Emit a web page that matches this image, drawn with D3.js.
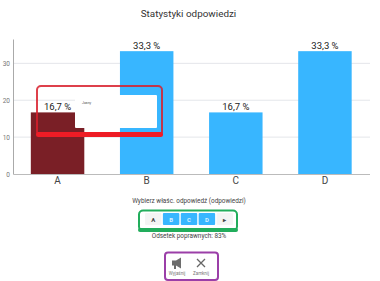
<!DOCTYPE html>
<html>
<head>
<meta charset="utf-8">
<script src="https://cdn.jsdelivr.net/npm/d3@7"></script>
<style>
  html, body { margin: 0; padding: 0; background: white; }
  svg { display: block; font-family: Roboto, sans-serif; }
</style>
</head>
<body>
<div id="chart"></div>
<script>
const categories = ["A", "B", "C", "D"];
const shares = [16.7, 33.3, 16.7, 33.3];
const shareLabels = ["16,7 %", "33,3 %", "16,7 %", "33,3 %"];
const yTicks = [0, 10, 20, 30];
const answerButtons = ["A", "B", "C", "D", "▸"];
const toolLabels = ["Wyjaśnij", "Zamknij"];

const width = 380, height = 281;

const svg = d3.select("#chart")
  .append("svg")
  .attr("width", width)
  .attr("height", height);

const x = d3.scaleBand().domain(categories).range([13, 369.5]).paddingInner(0.4).paddingOuter(0.2);
const y = d3.scaleLinear().domain([0, 36.6]).range([174, 39]);

svg.append("text")
  .attr("x", 188.5).attr("y", 17)
  .attr("text-anchor", "middle")
  .attr("font-size", 9.9)
  .attr("fill", "#333")
  .text("Statystyki odpowiedzi");

// grid lines
svg.append("g")
  .selectAll("line")
  .data(yTicks.slice(1))
  .join("line")
  .attr("x1", 13).attr("x2", 370)
  .attr("y1", d => y(d)).attr("y2", d => y(d))
  .attr("stroke", "#e4e6ea");

// axes
const yAxis = svg.append("g")
  .attr("transform", "translate(13,0)")
  .call(d3.axisLeft(y).tickValues(yTicks).tickSize(0).tickPadding(3));
yAxis.select(".domain").attr("stroke", "#aaa");
yAxis.selectAll("text").attr("font-size", 6.5).attr("fill", "#777").attr("font-family", "Roboto");

const xAxis = svg.append("g")
  .attr("transform", "translate(0,174)")
  .call(d3.axisBottom(x).tickSize(0).tickPadding(3));
xAxis.select(".domain").attr("stroke", "#bbb");
xAxis.selectAll("text").attr("font-size", 10).attr("fill", "#444").attr("font-family", "Roboto");

// bars
svg.append("g")
  .selectAll("rect")
  .data(categories)
  .join("rect")
  .attr("x", d => x(d))
  .attr("y", (d, i) => y(shares[i]))
  .attr("width", x.bandwidth())
  .attr("height", (d, i) => y(0) - y(shares[i]))
  .attr("fill", (d, i) => i == 0 ? "#7a1f26" : "#38b6ff");

svg.append("g")
  .attr("text-anchor", "middle")
  .attr("font-size", 9.5)
  .attr("fill", "#222")
  .selectAll("text")
  .data(categories)
  .join("text")
  .attr("x", d => x(d) + x.bandwidth() / 2)
  .attr("y", (d, i) => y(shares[i]) - 2)
  .text((d, i) => shareLabels[i]);

// red highlight box with the white popup on top
svg.append("rect")
  .attr("x", 37).attr("y", 86)
  .attr("width", 125).attr("height", 50)
  .attr("rx", 4)
  .attr("fill", "none")
  .attr("stroke", "#d81e2c").attr("stroke-width", 2)
  .attr("opacity", 0.85);
svg.append("rect")
  .attr("x", 36).attr("y", 132)
  .attr("width", 127).attr("height", 5)
  .attr("rx", 2.5)
  .attr("fill", "#ee1c25");
svg.append("rect")
  .attr("x", 75).attr("y", 95)
  .attr("width", 82).attr("height", 33)
  .attr("rx", 1)
  .attr("fill", "white");
svg.append("text")
  .attr("x", 82).attr("y", 104)
  .attr("font-size", 3.5)
  .attr("fill", "#555")
  .text("Jasny");

// answer selection
svg.append("text")
  .attr("x", 189).attr("y", 203)
  .attr("text-anchor", "middle")
  .attr("font-size", 6.4)
  .attr("fill", "#444")
  .text("Wybierz właśc. odpowiedź (odpowiedzi)");

svg.append("rect")
  .attr("x", 139).attr("y", 210.5)
  .attr("width", 98).attr("height", 20)
  .attr("rx", 4)
  .attr("fill", "white")
  .attr("stroke", "#22ad5c").attr("stroke-width", 2);
svg.append("rect")
  .attr("x", 138).attr("y", 228)
  .attr("width", 100).attr("height", 4)
  .attr("rx", 2)
  .attr("fill", "#22ad5c");

const btnX = d3.scaleBand().domain(answerButtons).range([145, 233]).paddingInner(0.08);
const btns = svg.append("g")
  .selectAll("g")
  .data(answerButtons)
  .join("g")
  .attr("transform", d => `translate(${btnX(d)},213)`);
btns.append("rect")
  .attr("width", btnX.bandwidth())
  .attr("height", 12)
  .attr("rx", 1)
  .attr("fill", (d, i) => (i >= 1 && i <= 3) ? "#38b6ff" : "#f4f4f4");
btns.append("text")
  .attr("x", btnX.bandwidth() / 2).attr("y", 8.5)
  .attr("text-anchor", "middle")
  .attr("font-size", 6)
  .attr("font-weight", "bold")
  .attr("fill", (d, i) => (i >= 1 && i <= 3) ? "#d8f1ff" : "#444")
  .text(d => d);

svg.append("text")
  .attr("x", 189).attr("y", 238)
  .attr("text-anchor", "middle")
  .attr("font-size", 6.4)
  .attr("fill", "#444")
  .text("Odsetek poprawnych: 83%");

// tools box
svg.append("rect")
  .attr("x", 165).attr("y", 252.5)
  .attr("width", 53).attr("height", 27.5)
  .attr("rx", 3)
  .attr("fill", "white")
  .attr("stroke", "#9b3fa8").attr("stroke-width", 2);

const toolX = d3.scalePoint().domain(toolLabels).range([177, 201]);
svg.append("g")
  .attr("text-anchor", "middle")
  .attr("font-size", 4.5)
  .attr("fill", "#777")
  .selectAll("text")
  .data(toolLabels)
  .join("text")
  .attr("x", d => toolX(d)).attr("y", 275)
  .text(d => d);

// megaphone icon
svg.append("path")
  .attr("transform", `translate(${toolX("Wyjaśnij")},263)`)
  .attr("d", "M-5,-2.5H-1L4,-5.5V5.5L-1,2.5V6H-3V2.5H-5Z")
  .attr("fill", "#6d6d6d");
// close icon
svg.append("path")
  .attr("transform", `translate(${toolX("Zamknij")},263)`)
  .attr("d", "M-4,-4L4,4M4,-4L-4,4")
  .attr("stroke", "#666")
  .attr("stroke-width", 1.3)
  .attr("fill", "none");
</script>
</body>
</html>
